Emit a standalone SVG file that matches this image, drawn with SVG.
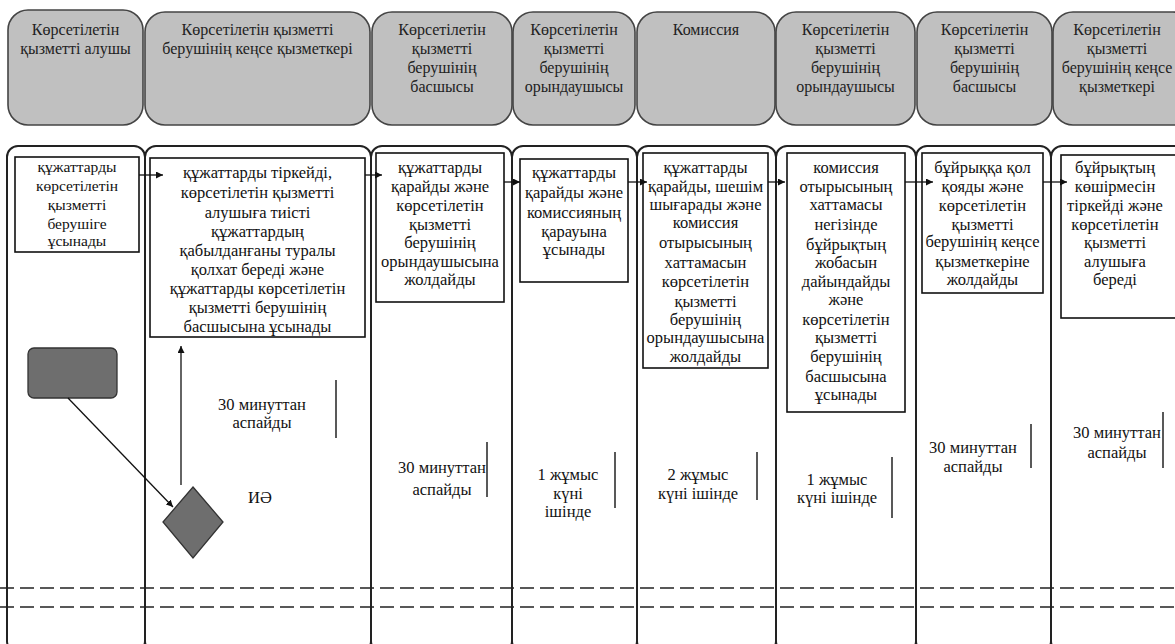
<svg xmlns="http://www.w3.org/2000/svg" width="1175" height="644" viewBox="0 0 1175 644">
<style>
.hdr{fill:#c0c0c0;stroke:#444;stroke-width:1.6}
.lane{fill:none;stroke:#222;stroke-width:2}
.box{fill:#fff;stroke:#111;stroke-width:1.6}
text{font-family:'Liberation Serif','Times New Roman',serif;text-anchor:middle}
.t{fill:#111;font-size:16.5px}
.s{fill:#111;font-size:15.5px}
.h{fill:#222;font-size:16px}
.con{fill:none;stroke:#111;stroke-width:1.3}
.bar{stroke:#222;stroke-width:1.5}
.dash{stroke:#222;stroke-width:1.5;stroke-dasharray:14 6}
.gray{fill:#6e6e6e;stroke:#333;stroke-width:1.3}
</style>
<defs>
<marker id="ah" viewBox="0 0 10 10" refX="10" refY="5" markerWidth="7" markerHeight="7" orient="auto" markerUnits="userSpaceOnUse">
<path d="M0,0 L10,5 L0,10 z" fill="#111"/>
</marker>
</defs>
<rect width="1175" height="644" fill="#fff"/>

<g id="headers">
<g id="h1"><rect class="hdr" x="8" y="10" width="135" height="115" rx="20"/>
<text class="h" x="75.5" y="35">Көрсетілетін</text><text class="h" x="75.5" y="54">қызметті алушы</text></g>
<g id="h2"><rect class="hdr" x="145" y="12" width="225" height="113" rx="20"/>
<text class="h" x="257.5" y="35">Көрсетілетін қызметті</text><text class="h" x="257.5" y="54">берушінің кеңсе қызметкері</text></g>
<g id="h3"><rect class="hdr" x="372" y="12" width="140" height="113" rx="20"/>
<text class="h" x="442" y="35">Көрсетілетін</text><text class="h" x="442" y="54">қызметті</text><text class="h" x="442" y="73">берушінің</text><text class="h" x="442" y="92">басшысы</text></g>
<g id="h4"><rect class="hdr" x="513" y="12" width="122" height="113" rx="20"/>
<text class="h" x="574" y="35">Көрсетілетін</text><text class="h" x="574" y="54">қызметті</text><text class="h" x="574" y="73">берушінің</text><text class="h" x="574" y="92">орындаушысы</text></g>
<g id="h5"><rect class="hdr" x="637" y="12" width="138" height="113" rx="20"/>
<text class="h" x="706" y="35">Комиссия</text></g>
<g id="h6"><rect class="hdr" x="776" y="12" width="139" height="113" rx="20"/>
<text class="h" x="845.5" y="35">Көрсетілетін</text><text class="h" x="845.5" y="54">қызметті</text><text class="h" x="845.5" y="73">берушінің</text><text class="h" x="845.5" y="92">орындаушысы</text></g>
<g id="h7"><rect class="hdr" x="917" y="12" width="135" height="113" rx="20"/>
<text class="h" x="984.5" y="35">Көрсетілетін</text><text class="h" x="984.5" y="54">қызметті</text><text class="h" x="984.5" y="73">берушінің</text><text class="h" x="984.5" y="92">басшысы</text></g>
<g id="h8"><rect class="hdr" x="1053" y="12" width="140" height="113" rx="20"/>
<text class="h" x="1117" y="35">Көрсетілетін</text><text class="h" x="1117" y="54">қызметті</text><text class="h" x="1117" y="73">берушінің кеңсе</text><text class="h" x="1117" y="92">қызметкері</text></g>
</g>

<g id="lanes">
<rect class="lane" x="7" y="146" width="138" height="506" rx="11"/>
<rect class="lane" x="145" y="146" width="226" height="506" rx="11"/>
<rect class="lane" x="371" y="146" width="141" height="506" rx="11"/>
<rect class="lane" x="512" y="146" width="125" height="506" rx="11"/>
<rect class="lane" x="637" y="146" width="139" height="506" rx="11"/>
<rect class="lane" x="776" y="146" width="140" height="506" rx="11"/>
<rect class="lane" x="916" y="146" width="135" height="506" rx="11"/>
<rect class="lane" x="1051" y="146" width="140" height="506" rx="11"/>
</g>

<g id="dashes">
<line class="dash" x1="0" y1="588" x2="1175" y2="588"/>
<line class="dash" x1="0" y1="607" x2="1175" y2="607"/>
</g>

<g id="nodeA"><rect class="box" x="15" y="157" width="124" height="95"/>
<text class="s" x="77" y="172">құжаттарды</text><text class="s" x="77" y="191">көрсетілетін</text><text class="s" x="77" y="210">қызметті</text><text class="s" x="77" y="229">берушіге</text><text class="s" x="77" y="246">ұсынады</text></g>

<g id="nodeB"><rect class="box" x="150" y="158" width="215" height="179"/>
<text class="t" x="257.5" y="178">құжаттарды тіркейді,</text>
<text class="t" x="257.5" y="198">көрсетілетін қызметті</text>
<text class="t" x="257.5" y="218">алушыға тиісті</text>
<text class="t" x="257.5" y="237">құжаттардың</text>
<text class="t" x="257.5" y="256">қабылданғаны туралы</text>
<text class="t" x="257.5" y="275">қолхат береді және</text>
<text class="t" x="257.5" y="294">құжаттарды көрсетілетін</text>
<text class="t" x="257.5" y="313">қызметті берушінің</text>
<text class="t" x="257.5" y="332">басшысына ұсынады</text></g>

<g id="nodeC"><rect class="box" x="376" y="153" width="128" height="149"/>
<text class="t" x="440" y="173">құжаттарды</text><text class="t" x="440" y="192">қарайды және</text><text class="t" x="440" y="211">көрсетілетін</text><text class="t" x="440" y="230">қызметті</text><text class="t" x="440" y="248">берушінің</text><text class="t" x="440" y="267">орындаушысына</text><text class="t" x="440" y="285">жолдайды</text></g>

<g id="nodeD"><rect class="box" x="520" y="159" width="108" height="123"/>
<text class="t" x="574" y="178">құжаттарды</text><text class="t" x="574" y="198">қарайды және</text><text class="t" x="574" y="218">комиссияның</text><text class="t" x="574" y="237">қарауына</text><text class="t" x="574" y="255">ұсынады</text></g>

<g id="nodeE"><rect class="box" x="643" y="153" width="125" height="215"/>
<text class="t" x="705.5" y="173">құжаттарды</text><text class="t" x="705.5" y="192">қарайды, шешім</text><text class="t" x="705.5" y="210">шығарады және</text><text class="t" x="705.5" y="228">комиссия</text><text class="t" x="705.5" y="248">отырысының</text><text class="t" x="705.5" y="268">хаттамасын</text><text class="t" x="705.5" y="287">көрсетілетін</text><text class="t" x="705.5" y="307">қызметті</text><text class="t" x="705.5" y="325">берушінің</text><text class="t" x="705.5" y="343">орындаушысына</text><text class="t" x="705.5" y="362">жолдайды</text></g>

<g id="nodeF"><rect class="box" x="787" y="153" width="118" height="259"/>
<text class="t" x="846" y="173">комиссия</text><text class="t" x="846" y="192">отырысының</text><text class="t" x="846" y="210">хаттамасы</text><text class="t" x="846" y="230">негізінде</text><text class="t" x="846" y="250">бұйрықтың</text><text class="t" x="846" y="268">жобасын</text><text class="t" x="846" y="287">дайындайды</text><text class="t" x="846" y="305">және</text><text class="t" x="846" y="325">көрсетілетін</text><text class="t" x="846" y="343">қызметті</text><text class="t" x="846" y="362">берушінің</text><text class="t" x="846" y="382">басшысына</text><text class="t" x="846" y="400">ұсынады</text></g>

<g id="nodeG"><rect class="box" x="922" y="153" width="121" height="140"/>
<text class="t" x="982.5" y="173">бұйрыққа қол</text><text class="t" x="982.5" y="192">қояды және</text><text class="t" x="982.5" y="211">көрсетілетін</text><text class="t" x="982.5" y="230">қызметті</text><text class="t" x="982.5" y="247">берушінің кеңсе</text><text class="t" x="982.5" y="267">қызметкеріне</text><text class="t" x="982.5" y="285">жолдайды</text></g>

<g id="nodeH"><rect class="box" x="1061" y="155" width="125" height="163"/>
<text class="t" x="1115" y="173">бұйрықтың</text><text class="t" x="1115" y="192">көшірмесін</text><text class="t" x="1115" y="211">тіркейді және</text><text class="t" x="1115" y="230">көрсетілетін</text><text class="t" x="1115" y="248">қызметті</text><text class="t" x="1115" y="267">алушыға</text><text class="t" x="1115" y="285">береді</text></g>

<g id="start"><rect class="gray" x="28" y="348" width="89" height="50" rx="6"/></g>
<g id="decision"><polygon class="gray" points="193,487 223,522 193,558 163,522"/>
<text class="t" x="260" y="503">ИӘ</text></g>

<g id="timings">
<text class="t" x="262" y="410">30 минуттан</text><text class="t" x="262" y="428">аспайды</text>
<line class="bar" x1="336" y1="380" x2="336" y2="438"/>
<text class="t" x="442" y="473">30 минуттан</text><text class="t" x="442" y="495">аспайды</text>
<line class="bar" x1="487" y1="442" x2="487" y2="497"/>
<text class="t" x="568" y="480">1 жұмыс</text><text class="t" x="568" y="499">күні</text><text class="t" x="568" y="517">ішінде</text>
<line class="bar" x1="615" y1="452" x2="615" y2="508"/>
<text class="t" x="698" y="480">2 жұмыс</text><text class="t" x="698" y="499">күні ішінде</text>
<line class="bar" x1="757" y1="452" x2="757" y2="500"/>
<text class="t" x="837" y="485">1 жұмыс</text><text class="t" x="837" y="503">күні ішінде</text>
<line class="bar" x1="892" y1="457" x2="892" y2="518"/>
<text class="t" x="973" y="453">30 минуттан</text><text class="t" x="973" y="472">аспайды</text>
<line class="bar" x1="1031" y1="424" x2="1031" y2="468"/>
<text class="t" x="1117" y="438">30 минуттан</text><text class="t" x="1117" y="458">аспайды</text>
<line class="bar" x1="1163" y1="412" x2="1163" y2="468"/>
</g>

<g id="connectors">
<line class="con" x1="139" y1="175" x2="163" y2="175" marker-end="url(#ah)"/>
<line class="con" x1="365" y1="175" x2="382" y2="175" marker-end="url(#ah)"/>
<line class="con" x1="504" y1="182" x2="520" y2="182" marker-end="url(#ah)"/>
<line class="con" x1="628" y1="182" x2="647" y2="182" marker-end="url(#ah)"/>
<line class="con" x1="768" y1="182" x2="785" y2="182" marker-end="url(#ah)"/>
<line class="con" x1="905" y1="182" x2="933" y2="182" marker-end="url(#ah)"/>
<line class="con" x1="1043" y1="182" x2="1067" y2="182" marker-end="url(#ah)"/>
<line class="con" x1="68" y1="398" x2="173" y2="507" marker-end="url(#ah)"/>
<line class="con" x1="181" y1="485" x2="181" y2="346" marker-end="url(#ah)"/>
</g>
</svg>
